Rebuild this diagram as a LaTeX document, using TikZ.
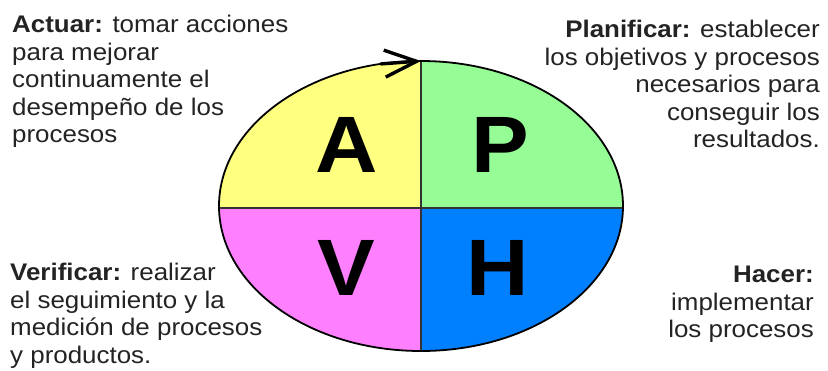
\documentclass[tikz,border=0pt]{standalone}
\usepackage{fontspec}
\setmainfont{Liberation Sans}[FakeStretch=1.08]
\usetikzlibrary{arrows.meta}
\definecolor{pdcaA}{RGB}{255,255,128}
\definecolor{pdcaP}{RGB}{150,252,150}
\definecolor{pdcaV}{RGB}{255,128,255}
\definecolor{pdcaH}{RGB}{0,128,255}
\definecolor{pdcaT}{RGB}{35,35,35}
\tikzset{
  pdcatext/.style={font=\fontsize{24}{27.5}\selectfont,inner sep=0pt,text=pdcaT},
  bigletter/.style={font=\fontsize{80}{80}\selectfont\bfseries,anchor=base,inner sep=0pt}
}
\begin{document}
\begin{tikzpicture}[x=1pt,y=-1pt,>={Straight Barb[length=32pt,width=27pt]}]
\useasboundingbox[fill=white] (0,0) rectangle (828,370);
\coordinate (c) at (421,206);
\begin{scope}
\clip (c) ellipse [x radius=202pt,y radius=145pt];
\fill[pdcaA] (215,55) rectangle (421,208); \fill[pdcaP] (421,55) rectangle (627,208);
\fill[pdcaV] (215,208) rectangle (421,356); \fill[pdcaH] (421,208) rectangle (627,356);
\end{scope}
\coordinate (top) at (421,61); \coordinate (bot) at (421,351);
\coordinate (lft) at (219,208); \coordinate (rgt) at (623,208);
\draw[line width=1.8pt,black!80] (top)--(bot); \draw[line width=1.8pt,black!80] (lft)--(rgt);
\draw[line width=1.8pt] (c) ellipse [x radius=202pt,y radius=145pt];
\coordinate (tail) at (381,63.9);
\draw[line width=3.4pt,line cap=round,line join=round,->] (tail)--(top);
\node[bigletter] (letA) at (346.5,172) {A};
\node[bigletter] (letP) at (500,172) {P};
\node[bigletter] (letV) at (346,295) {V};
\node[bigletter] (letH) at (498,295) {H};
\node[pdcatext,anchor=north west,align=left] (actuar) at (12,15)
  {\textbf{Actuar:} tomar acciones\\para mejorar\\continuamente el\\desempeño de los\\procesos};
\node[pdcatext,anchor=north east,align=right] (planificar) at (820,20)
  {\textbf{Planificar:} establecer\\los objetivos y procesos\\necesarios para\\conseguir los\\resultados.};
\node[pdcatext,anchor=north west,align=left] (verificar) at (10,263)
  {\textbf{Verificar:} realizar\\el seguimiento y la\\medición de procesos\\y productos.};
\node[pdcatext,anchor=north east,align=right] (hacer) at (814,266)
  {\textbf{Hacer:}\\implementar\\los procesos};
\end{tikzpicture}
\end{document}
